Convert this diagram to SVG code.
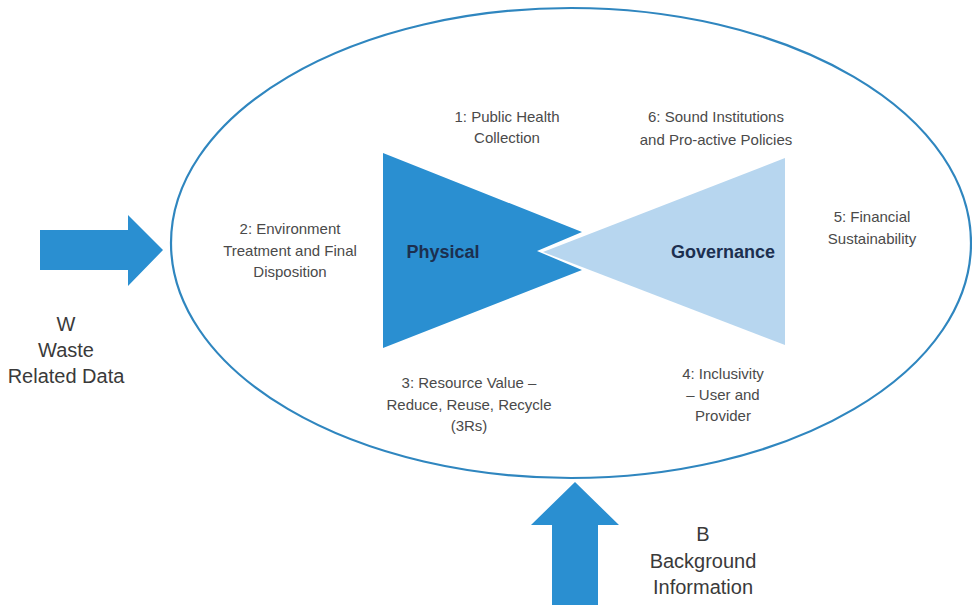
<svg xmlns="http://www.w3.org/2000/svg" width="972" height="605" viewBox="0 0 972 605">
<style>
.lbl{font-family:"Liberation Sans",Arial,sans-serif;font-size:15px;fill:#4a4a4a;text-anchor:middle}
.big{font-family:"Liberation Sans",Arial,sans-serif;font-size:20px;fill:#3a3a3a;text-anchor:middle}
.core{font-family:"Liberation Sans",Arial,sans-serif;font-size:18px;font-weight:bold;fill:#1c2f4f;text-anchor:middle}
.arrow{fill:#2a8fd1}
</style>
<rect width="972" height="605" fill="#ffffff"/>
<g id="system">
<ellipse cx="571" cy="243" rx="400" ry="235" fill="none" stroke="#2f86bf" stroke-width="2.2"/>
</g>
<g id="physical">
<polygon points="383,153 582,232 537,251 582,270 383,348" fill="#2a8fd1"/>
<text class="core" x="443" y="258">Physical</text>
</g>
<g id="governance">
<polygon points="543,252 785,158 785,345" fill="#b7d6ef"/>
<text class="core" x="723" y="258">Governance</text>
</g>
<g id="n1"><text class="lbl" x="507" y="122">1: Public Health</text><text class="lbl" x="507" y="143">Collection</text></g>
<g id="n6"><text class="lbl" x="716" y="122">6: Sound Institutions</text><text class="lbl" x="716" y="145">and Pro-active Policies</text></g>
<g id="n2"><text class="lbl" x="290" y="234">2: Environment</text><text class="lbl" x="290" y="256">Treatment and Final</text><text class="lbl" x="290" y="277">Disposition</text></g>
<g id="n5"><text class="lbl" x="872" y="222">5: Financial</text><text class="lbl" x="872" y="244">Sustainability</text></g>
<g id="n3"><text class="lbl" x="469" y="388">3: Resource Value –</text><text class="lbl" x="469" y="410">Reduce, Reuse, Recycle</text><text class="lbl" x="469" y="431">(3Rs)</text></g>
<g id="n4"><text class="lbl" x="723" y="379">4: Inclusivity</text><text class="lbl" x="723" y="400">– User and</text><text class="lbl" x="723" y="421">Provider</text></g>
<g id="w"><text class="big" x="66" y="331">W</text><text class="big" x="66" y="357">Waste</text><text class="big" x="66" y="383">Related Data</text></g>
<g id="b"><text class="big" x="703" y="541">B</text><text class="big" x="703" y="568">Background</text><text class="big" x="703" y="594">Information</text></g>
<g id="connectors">
<polygon class="arrow" points="40,230 128,230 128,215 163,250 128,286 128,270 40,270"/>
<polygon class="arrow" points="575,482 619,525 598,525 598,605 552,605 552,525 531,525"/>
</g>
</svg>
